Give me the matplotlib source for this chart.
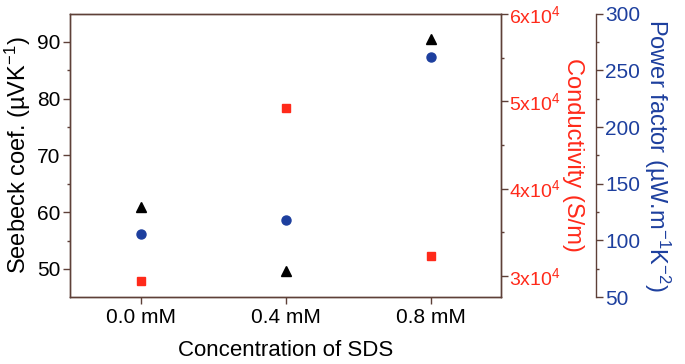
import matplotlib
matplotlib.use("Agg")
import matplotlib.pyplot as plt
from matplotlib.ticker import MultipleLocator, FixedLocator

plt.rcParams['font.family'] = ['Liberation Sans', 'DejaVu Sans']
plt.rcParams['mathtext.fontset'] = 'custom'
plt.rcParams['mathtext.rm'] = 'Liberation Sans'
plt.rcParams['mathtext.it'] = 'Liberation Sans'

# data
categories = ["0.0 mM", "0.4 mM", "0.8 mM"]
seebeck = [61.0, 49.7, 90.6]            # uV/K
conductivity = [29400, 49200, 32300]    # S/m
power_factor = [105.6, 118.3, 261.6]    # uW m-1 K-2

frame = "#5e4038"
red = "#ff2a1a"
blue = "#1d3f9e"

fig = plt.figure(figsize=(6.85, 3.64), dpi=100)
ax = fig.add_axes([0.102, 0.184, 0.629, 0.778])
ax2 = ax.twinx()
ax3 = ax.twinx()

x = list(range(len(categories)))
ax.plot(x, seebeck, "^", color="black", ms=6.5, zorder=5)
ax2.plot(x, conductivity, "s", color=red, ms=6, zorder=5)
ax3.plot(x, power_factor, "o", color=blue, ms=6.5, zorder=5)

ax.set_xlim(-0.49, 2.48)
ax.set_ylim(45.05, 94.95)
ax2.set_ylim(27600, 60000)
ax3.set_ylim(50, 300)

ax.set_xticks(x)
ax.set_xticklabels(categories)
ax.yaxis.set_major_locator(MultipleLocator(10))
ax.yaxis.set_minor_locator(MultipleLocator(5))

ax2.yaxis.set_major_locator(FixedLocator([30000, 40000, 50000, 60000]))
ax2.yaxis.set_minor_locator(MultipleLocator(5000))
ax2.set_yticklabels([r"3x10$^{4}$", r"4x10$^{4}$", r"5x10$^{4}$", r"6x10$^{4}$"])

ax3.yaxis.set_major_locator(MultipleLocator(50))
ax3.yaxis.set_minor_locator(MultipleLocator(25))
ax3.spines["right"].set_position(("axes", 1.22))
for s in ["top", "bottom", "left"]:
    ax3.spines[s].set_visible(False)

for a in (ax, ax2, ax3):
    for s in a.spines.values():
        s.set_color(frame)
        s.set_linewidth(1.0)
    a.tick_params(which="both", direction="out", color=frame, width=1.0)
    a.tick_params(which="major", length=5, labelsize=15)
    a.tick_params(which="minor", length=2.5)

ax.tick_params(axis="y", labelcolor="black", pad=2)
ax.tick_params(axis="x", pad=3)
ax.xaxis.set_ticks_position("bottom")
ax2.tick_params(axis="y", labelcolor=red, pad=1, labelsize=14)
ax3.tick_params(axis="y", labelcolor=blue, pad=2)

ax.set_xlabel("Concentration of SDS", fontsize=16, labelpad=9)
ax.set_ylabel(r"Seebeck coef. (µVK$^{-1}$)", fontsize=17, labelpad=3)
ax2.set_ylabel("Conductivity (S/m)", fontsize=17, color=red, rotation=270, labelpad=17)
ax3.set_ylabel(r"Power factor (µW.m$^{-1}$K$^{-2}$)", fontsize=17, color=blue,
               rotation=270, labelpad=23)

fig.savefig("out.png", dpi=100)
